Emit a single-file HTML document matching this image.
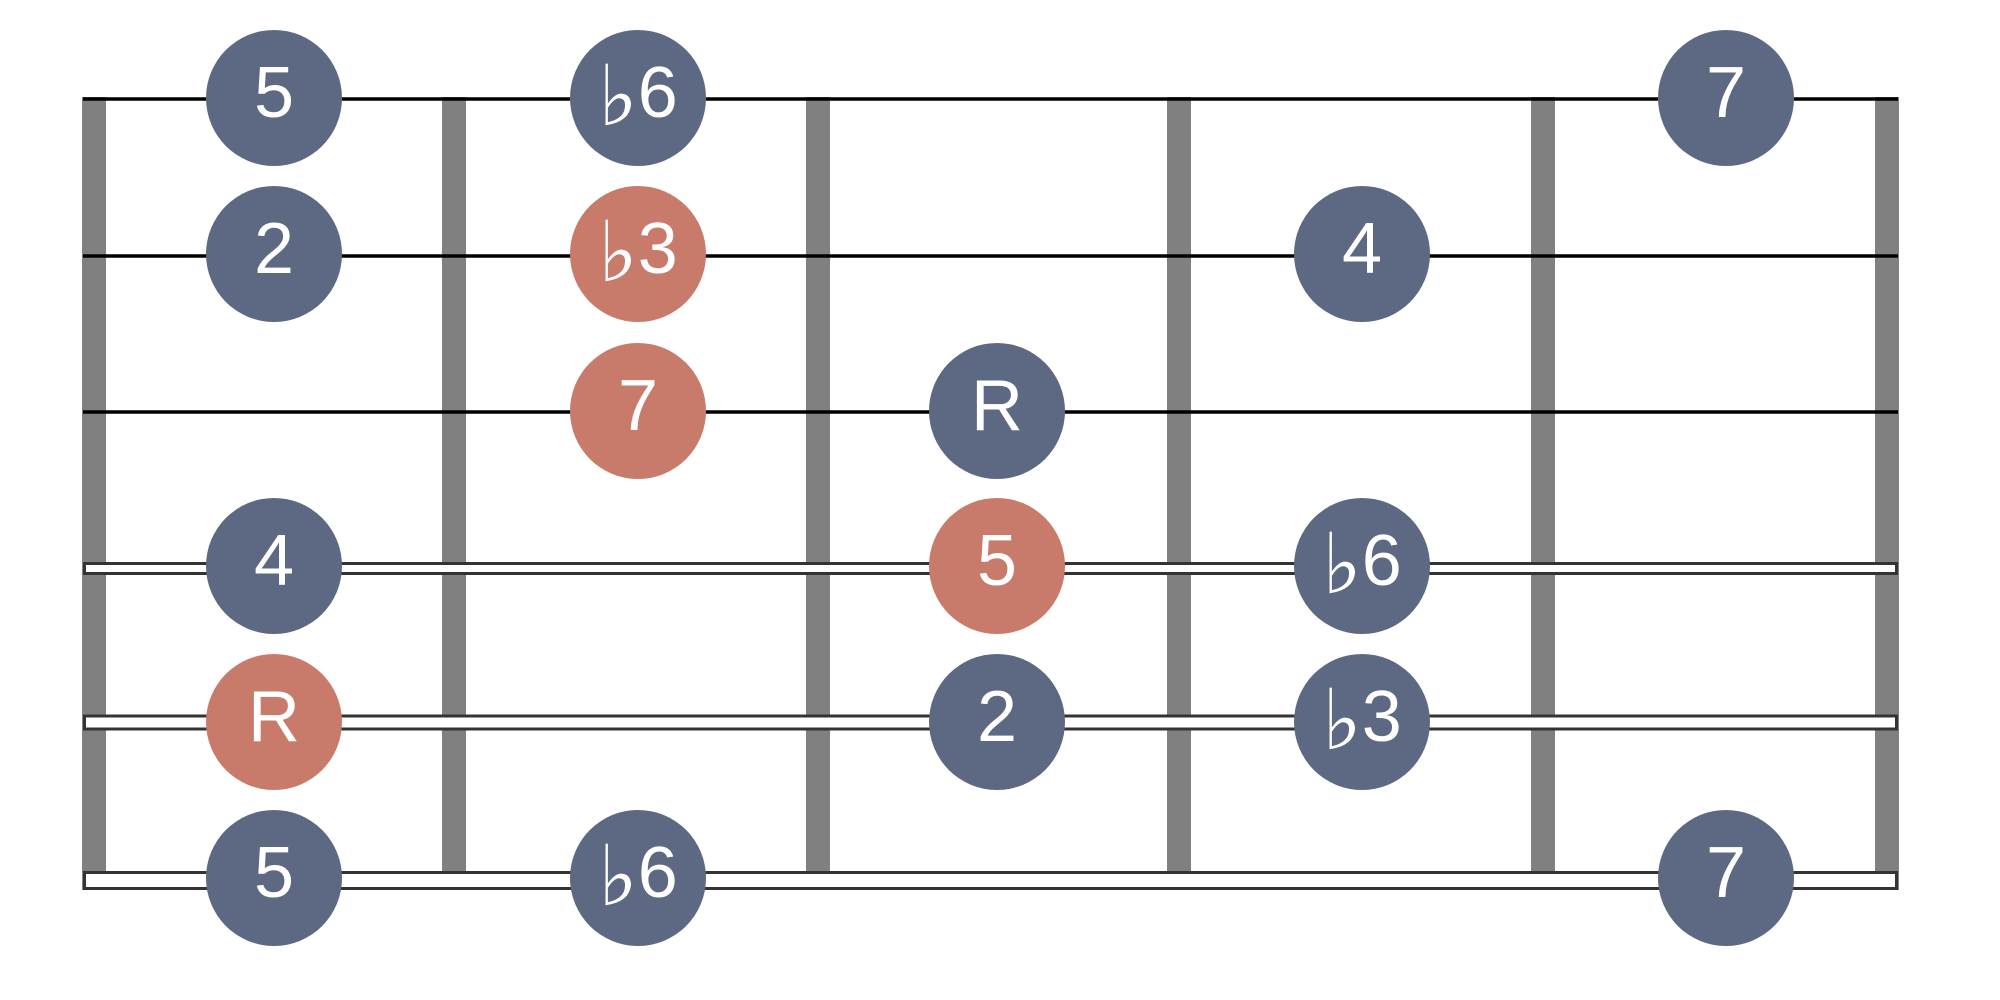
<!DOCTYPE html>
<html><head><style>html,body{margin:0;padding:0;background:#fff;}svg{display:block}</style></head>
<body>
<svg width="2000" height="1000" viewBox="0 0 2000 1000" xmlns="http://www.w3.org/2000/svg">
<g fill="#808080">
<rect x="82" y="97" width="24" height="793"/>
<rect x="442" y="97" width="24" height="793"/>
<rect x="806" y="97" width="24" height="793"/>
<rect x="1167" y="97" width="24" height="793"/>
<rect x="1531" y="97" width="24" height="793"/>
<rect x="1875" y="97" width="24" height="793"/>
</g>
<g stroke="#000" stroke-width="3.5">
<line x1="83" y1="99" x2="1898" y2="99"/>
<line x1="83" y1="256" x2="1898" y2="256"/>
<line x1="83" y1="412" x2="1898" y2="412"/>
</g>
<g fill="#fff" stroke="#333" stroke-width="3">
<rect x="84.5" y="563.5" width="1812" height="10"/>
<rect x="84.5" y="716" width="1812" height="13"/>
<rect x="84.5" y="872.5" width="1812" height="16"/>
</g>
<g>
<circle cx="274" cy="98" r="68" fill="#5d6882"/>
<circle cx="638" cy="98" r="68" fill="#5d6882"/>
<circle cx="1726" cy="98" r="68" fill="#5d6882"/>
<circle cx="274" cy="254" r="68" fill="#5d6882"/>
<circle cx="638" cy="254" r="68" fill="#c87b6a"/>
<circle cx="1362" cy="254" r="68" fill="#5d6882"/>
<circle cx="638" cy="411" r="68" fill="#c87b6a"/>
<circle cx="997" cy="411" r="68" fill="#5d6882"/>
<circle cx="274" cy="566" r="68" fill="#5d6882"/>
<circle cx="997" cy="566" r="68" fill="#c87b6a"/>
<circle cx="1362" cy="566" r="68" fill="#5d6882"/>
<circle cx="274" cy="722" r="68" fill="#c87b6a"/>
<circle cx="997" cy="722" r="68" fill="#5d6882"/>
<circle cx="1362" cy="722" r="68" fill="#5d6882"/>
<circle cx="274" cy="878" r="68" fill="#5d6882"/>
<circle cx="638" cy="878" r="68" fill="#5d6882"/>
<circle cx="1726" cy="878" r="68" fill="#5d6882"/>
</g>
<g fill="#fff" font-family="Liberation Sans, DejaVu Sans, sans-serif" font-size="72" text-anchor="middle">
<text x="274" y="117">5</text>
<text x="638" y="117"><tspan font-size="84" dy="8">♭</tspan><tspan dy="-8">6</tspan></text>
<text x="1726" y="117">7</text>
<text x="274" y="273">2</text>
<text x="638" y="273"><tspan font-size="84" dy="8">♭</tspan><tspan dy="-8">3</tspan></text>
<text x="1362" y="273">4</text>
<text x="638" y="430">7</text>
<text x="997" y="430">R</text>
<text x="274" y="585">4</text>
<text x="997" y="585">5</text>
<text x="1362" y="585"><tspan font-size="84" dy="8">♭</tspan><tspan dy="-8">6</tspan></text>
<text x="274" y="741">R</text>
<text x="997" y="741">2</text>
<text x="1362" y="741"><tspan font-size="84" dy="8">♭</tspan><tspan dy="-8">3</tspan></text>
<text x="274" y="897">5</text>
<text x="638" y="897"><tspan font-size="84" dy="8">♭</tspan><tspan dy="-8">6</tspan></text>
<text x="1726" y="897">7</text>
</g>
</svg>
</body></html>
